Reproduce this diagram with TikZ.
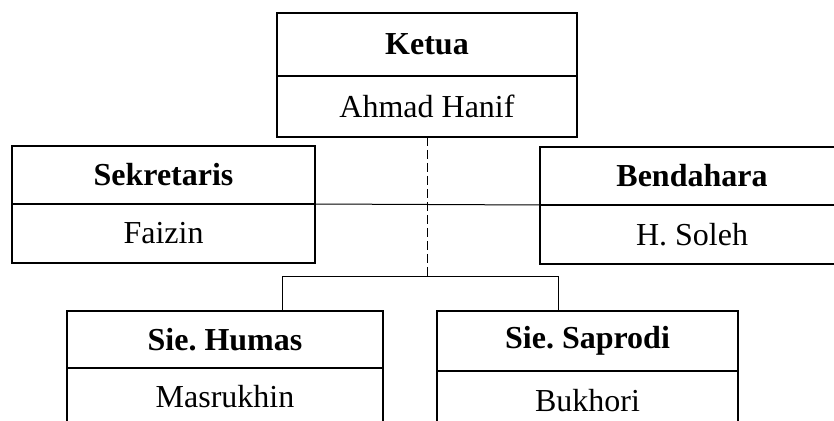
\documentclass[tikz,border=0pt]{standalone}
\usepackage{fontspec}
\setmainfont{Liberation Serif}
\usetikzlibrary{positioning}
\frenchspacing
\tikzset{
	jabatan/.style={draw, line width=0.8pt, inner sep=0pt, outer sep=0pt, font=\fontsize{16}{19}\selectfont\bfseries},
	nama/.style={draw, line width=0.8pt, inner sep=0pt, outer sep=0pt, font=\fontsize{16}{19}\selectfont},
	garis/.style={line width=0.5pt}
}
\begin{document}
\begin{tikzpicture}[x=0.5pt,y=-0.5pt]
		\clip (0,0) rectangle (834,421);

		\node[jabatan, minimum width=150pt, minimum height=31.5pt] (ketua) at (427,44.5) {Ketua};
		\node[nama, minimum width=150pt, minimum height=30.5pt, below=0pt of ketua] (ketuaNama) {Ahmad Hanif};

		\node[jabatan, minimum width=151.5pt, minimum height=29pt] (sekretaris) at (163.5,175) {Sekretaris};
		\node[nama, minimum width=151.5pt, minimum height=29.5pt, below=0pt of sekretaris] (sekretarisNama) {Faizin};

		\node[jabatan, minimum width=152pt, minimum height=29pt] (bendahara) at (692,176) {Bendahara};
		\node[nama, minimum width=152pt, minimum height=29.5pt, below=0pt of bendahara] (bendaharaNama) {H. Soleh};

		\node[jabatan, minimum width=158pt, minimum height=28.5pt] (humas) at (225,339.5) {Sie. Humas};
		\node[nama, minimum width=158pt, minimum height=29pt, below=0pt of humas] (humasNama) {Masrukhin};

		\node[jabatan, minimum width=150.5pt, minimum height=30pt] (saprodi) at (587.5,341) {Sie. Saprodi};
		\node[nama, minimum width=150.5pt, minimum height=29.5pt, below=0pt of saprodi] (saprodiNama) {Bukhori};

		\coordinate (cabang) at (427,277);
		\coordinate (cabangKiri) at (282,277);
		\coordinate (cabangKanan) at (558,277);

		\draw[garis] (sekretaris.south east) -- (bendahara.south west);
		\draw[garis, dash pattern=on 4.5pt off 2pt] (ketuaNama.south) -- (cabang);
		\draw[garis] (cabangKiri |- humas.north) -- (cabangKiri) -- (cabangKanan) -- (cabangKanan |- saprodi.north);
	\end{tikzpicture}
\end{document}
